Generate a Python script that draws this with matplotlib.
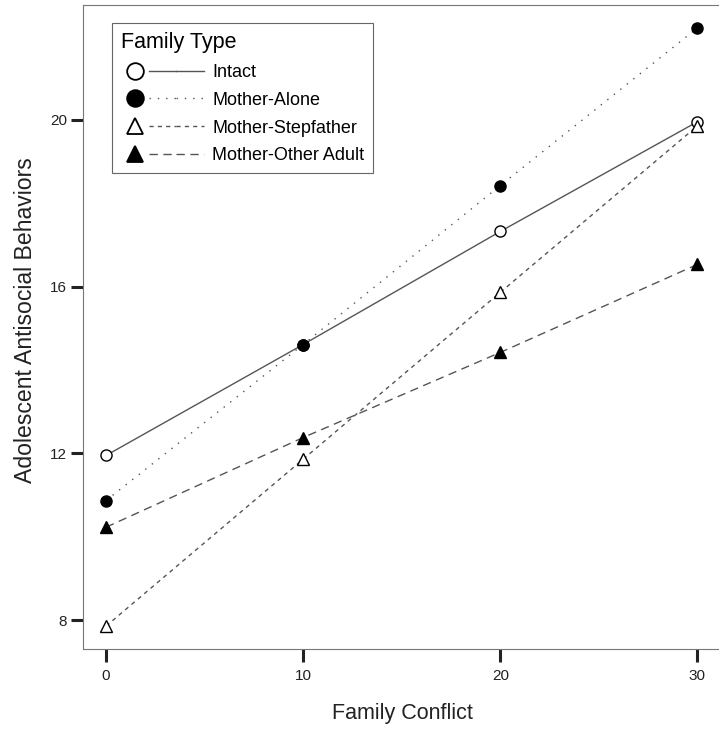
import numpy as np
import matplotlib
matplotlib.use("Agg")
import matplotlib.pyplot as plt
from matplotlib.lines import Line2D
from matplotlib.legend_handler import HandlerTuple

plt.rcParams['font.family'] = ['Liberation Sans', 'DejaVu Sans']

# 가족 갈등 수준 (x축)
conflict = [0, 10, 20, 30]

# 가족 유형별 청소년 반사회적 행동 추정값
intact = [11.95, 14.61, 17.32, 19.95]
mother_alone = [10.87, 14.61, 18.42, 22.2]
mother_step = [7.86, 11.86, 15.86, 19.85]
mother_other = [10.23, 12.38, 14.42, 16.53]

labels = ['Intact', 'Mother-Alone', 'Mother-Stepfather', 'Mother-Other Adult']
markers = ['o', 'o', '^', '^']
fills = ['white', 'black', 'white', 'black']
styles = ['-', (0, (1, 5)), (0, (3, 3)), (0, (6, 4))]
series = [intact, mother_alone, mother_step, mother_other]

fig = plt.figure(figsize=(7.19, 7.30), dpi=100)
ax = fig.add_axes([83 / 719, 1 - 649 / 730, 638 / 719, 644 / 730])

handles = []
for y, lab, mk, fc, ls in zip(series, labels, markers, fills, styles):
    ax.plot(conflict, y, color='#555555', linestyle=ls, linewidth=1.0, zorder=2)
    ax.plot(conflict, y, linestyle='none', marker=mk, markersize=8,
            markerfacecolor=fc, markeredgecolor='black', markeredgewidth=1.0, zorder=3)
    m = Line2D([], [], linestyle='none', marker=mk, markersize=12,
               markerfacecolor=fc, markeredgecolor='black', markeredgewidth=1.3)
    l = Line2D([], [], color='#555555', linestyle=ls, linewidth=1.0)
    # 마커 1칸 + 선 2칸
    handles.append((m, l, l))

ax.set_xlim(-1.17, 31.2)
ax.set_ylim(7.31, 22.75)
ax.set_xticks([0, 10, 20, 30])
ax.set_yticks([8, 12, 16, 20])
ax.tick_params(axis='x', direction='out', length=9.5, width=2.2, pad=5, labelsize=11,
               color='#222222', labelcolor='#222222')
ax.tick_params(axis='y', direction='out', length=9, width=2.2, pad=2.5, labelsize=11,
               color='#222222', labelcolor='#222222')
for s in ax.spines.values():
    s.set_color('#777777')
    s.set_linewidth(0.8)

ax.set_xlabel('Family Conflict', fontsize=15.5, color='#222222', labelpad=14)
ax.set_ylabel('Adolescent Antisocial Behaviors', fontsize=16.6, color='#222222')
ax.yaxis.set_label_coords(-0.072, 0.51)

leg = ax.legend(handles, labels, handler_map={tuple: HandlerTuple(ndivide=3, pad=0.0)},
                title='Family Type', loc='upper left', bbox_to_anchor=(0.0455, 0.972),
                borderaxespad=0, fontsize=13, title_fontsize=15.5, handlelength=4.6,
                handletextpad=0.45, labelspacing=0.6, borderpad=0.5, fancybox=False,
                framealpha=1, edgecolor='#666666')
leg._legend_box.align = 'left'
leg.get_frame().set_linewidth(0.8)

fig.savefig('out.png', dpi=100)
